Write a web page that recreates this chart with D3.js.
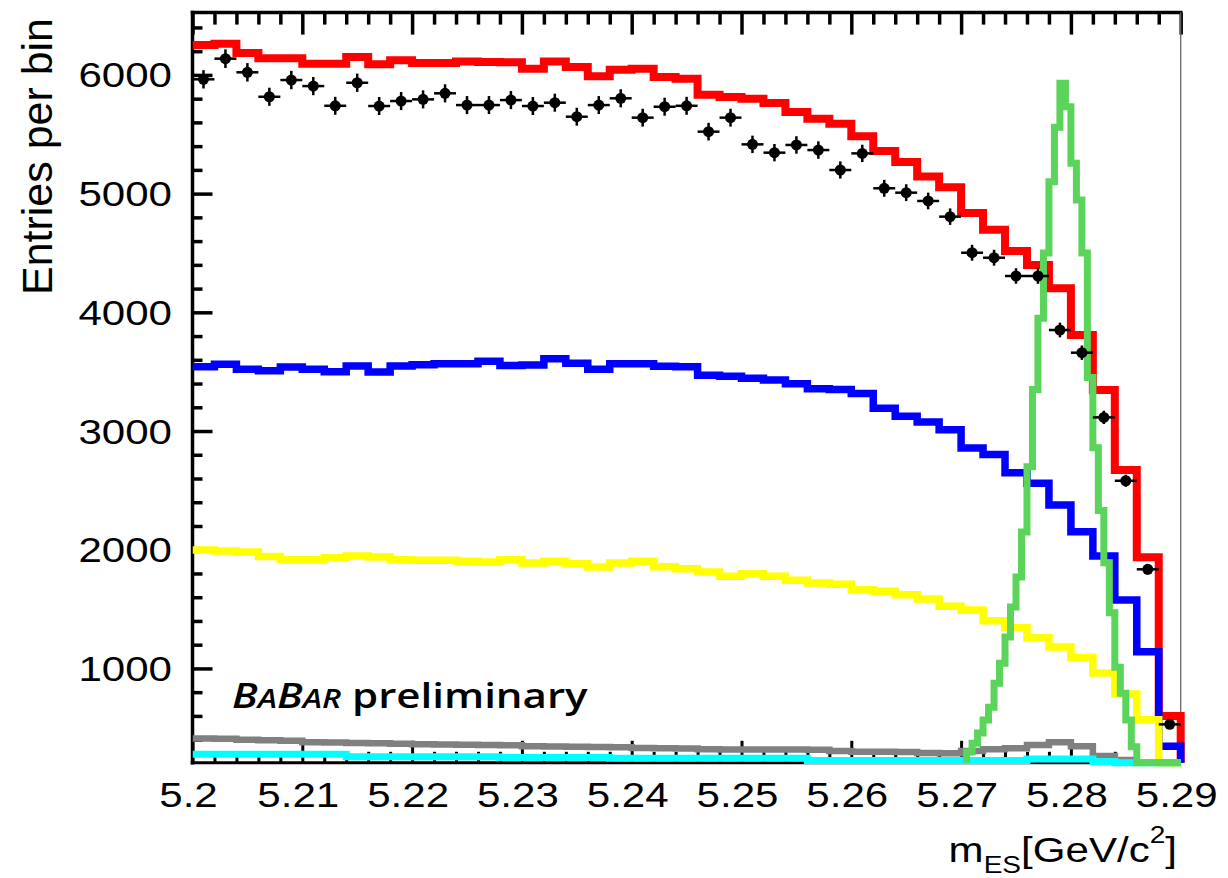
<!DOCTYPE html>
<html><head><meta charset="utf-8">
<script src="https://cdn.jsdelivr.net/npm/d3@7"></script>
<style>body{margin:0;background:#fff}</style>
</head><body>
<svg id="c" width="1228" height="878" xmlns="http://www.w3.org/2000/svg"></svg>
<script>
// ---------- data ----------
const binStart = 5.2, binWidth = 0.002;           // 45 bins, 5.20 - 5.29
const xTicks = [5.2, 5.21, 5.22, 5.23, 5.24, 5.25, 5.26, 5.27, 5.28, 5.29];
const xTickLabels = ["5.2", "5.21", "5.22", "5.23", "5.24", "5.25", "5.26", "5.27", "5.28", "5.29"];
const yTicks = [1000, 2000, 3000, 4000, 5000, 6000];
const yTickLabels = ["1000", "2000", "3000", "4000", "5000", "6000"];

const dataCounts = [5963, 6137, 6022, 5816, 5957, 5906, 5740, 5934, 5738, 5780, 5794, 5845, 5746, 5746, 5788,
  5738, 5766, 5648, 5746, 5803, 5640, 5732, 5740, 5522, 5640, 5415, 5345, 5410, 5367, 5199,
  5339, 5045, 5008, 4938, 4806, 4502, 4460, 4306, 4306, 3851, 3660, 3115, 2581, 1835, 529];
const totalFit = [6252, 6263, 6184, 6140, 6140, 6094, 6094, 6151, 6089, 6123, 6100, 6100, 6114, 6109, 6106,
  6052, 6114, 6066, 5988, 6044, 6052, 5982, 5968, 5833, 5814, 5800, 5763, 5687, 5631, 5589,
  5483, 5359, 5266, 5145, 5053, 4837, 4696, 4516, 4398, 4202, 3809, 3345, 2671, 1936, 599];
const blueComp = [3542, 3562, 3520, 3508, 3539, 3520, 3500, 3548, 3497, 3548, 3559, 3567, 3567, 3587, 3553,
  3556, 3609, 3570, 3520, 3567, 3567, 3545, 3542, 3469, 3461, 3444, 3430, 3398, 3357, 3350,
  3316, 3191, 3124, 3076, 3010, 2856, 2802, 2649, 2559, 2376, 2152, 1947, 1576, 1141, 345];
const yellowComp = [1997, 1989, 1981, 1944, 1916, 1916, 1933, 1947, 1939, 1916, 1911, 1911, 1902, 1896, 1916,
  1888, 1902, 1882, 1854, 1888, 1903, 1857, 1840, 1812, 1776, 1798, 1776, 1742, 1719, 1710,
  1663, 1650, 1620, 1585, 1523, 1492, 1402, 1343, 1259, 1180, 1093, 961, 784, 568, 120];
const grayComp = [410, 408, 400, 395, 390, 378, 375, 372, 370, 366, 362, 360, 358, 356, 352,
  345, 343, 340, 338, 336, 330, 328, 326, 320, 318, 318, 318, 316, 315, 305,
  298, 298, 296, 288, 285, 305, 320, 328, 355, 378, 345, 262, 228, 150, 100];
const cyanComp = [276, 276, 276, 276, 276, 276, 276, 256, 256, 256, 256, 256, 256, 256, 250,
  250, 250, 250, 250, 243, 243, 243, 243, 243, 243, 243, 243, 243, 225, 225,
  225, 225, 225, 225, 225, 225, 225, 225, 238, 238, 238, 215, 120, 120, 120];

const sigStart = 5.2705, sigWidth = 0.0005;       // finer binning for the signal shape
const signalComp = [295, 370, 455, 565, 674, 876, 1044, 1264, 1517, 1770, 2150, 2700, 3350, 3950, 4500,
  5100, 5560, 5930, 5732, 5255, 4946, 4500, 3450, 2860, 2330, 1890, 1470, 1010, 790, 565,
  340, 0, 0, 0, 0, 0, 0, 0, 0];

// ---------- setup ----------
const svg = d3.select("#c");
const X0 = 192.5, X1 = 1180.7, Y0 = 762.8, Y1 = 12.6;
const yMin = 205, yMax = 6525;
const x = d3.scaleLinear().domain([5.2, 5.29]).range([X0, X1]);
const y = d3.scaleLinear().domain([yMin, yMax]).range([Y0, Y1]);
const FONT = "'Liberation Sans', Arial, Helvetica, sans-serif";
const SX = 1.22;

// ---------- axes (ticks) ----------
const xMinor = d3.range(0, 46).map(i => +(5.2 + i * 0.002).toFixed(3)).filter(v => Math.round(v * 1000) % 10 !== 0);
const yMinor = d3.range(400, 6500, 200).filter(v => v % 1000 !== 0);

function styleAxis(g, w) {
  g.select(".domain").remove();
  g.selectAll(".tick line").attr("stroke", "#000").attr("stroke-width", w);
  g.selectAll(".tick text").remove();
}
svg.append("g").attr("transform", `translate(0,${Y1})`)
  .call(d3.axisTop(x).tickValues(xTicks).tickSizeInner(-22).tickSizeOuter(0)).call(g => styleAxis(g, 3.5));
svg.append("g").attr("transform", `translate(0,${Y1})`)
  .call(d3.axisTop(x).tickValues(xMinor).tickSizeInner(-12).tickSizeOuter(0)).call(g => styleAxis(g, 3.5));
svg.append("g").attr("transform", `translate(0,${Y0})`)
  .call(d3.axisBottom(x).tickValues(xTicks).tickSizeInner(-22).tickSizeOuter(0)).call(g => styleAxis(g, 3));
svg.append("g").attr("transform", `translate(0,${Y0})`)
  .call(d3.axisBottom(x).tickValues(xMinor).tickSizeInner(-11).tickSizeOuter(0)).call(g => styleAxis(g, 3));
svg.append("g").attr("transform", `translate(${X0},0)`)
  .call(d3.axisLeft(y).tickValues(yTicks).tickSizeInner(-20).tickSizeOuter(0)).call(g => styleAxis(g, 3.5));
svg.append("g").attr("transform", `translate(${X0},0)`)
  .call(d3.axisLeft(y).tickValues(yMinor).tickSizeInner(-10).tickSizeOuter(0)).call(g => styleAxis(g, 3.5));

// frame
svg.append("line").attr("x1", X0 - 1.8).attr("x2", X1 + 1.8).attr("y1", Y1).attr("y2", Y1).attr("stroke", "#000").attr("stroke-width", 3.5);
svg.append("line").attr("x1", X0).attr("x2", X0).attr("y1", Y1 - 1.8).attr("y2", Y0 + 1.6).attr("stroke", "#000").attr("stroke-width", 3.5);
svg.append("line").attr("x1", X0 - 1.8).attr("x2", X1).attr("y1", Y0).attr("y2", Y0).attr("stroke", "#000").attr("stroke-width", 3);
svg.append("line").attr("x1", X1).attr("x2", X1).attr("y1", Y1).attr("y2", Y0).attr("stroke", "#666").attr("stroke-width", 1.3);

// ---------- histograms ----------
svg.append("defs").append("clipPath").attr("id", "pc").append("rect")
  .attr("x", X0).attr("y", 0).attr("width", 1228 - X0).attr("height", 772);
const plot = svg.append("g").attr("clip-path", "url(#pc)");
const line = d3.line().x(d => x(d[0])).y(d => y(d[1]));
function stepPts(lo, w, vals, startBottom, endBottom) {
  const pts = [];
  if (startBottom) pts.push([lo, yMin]);
  vals.forEach((v, i) => { const c = Math.max(v, yMin); pts.push([lo + i * w, c]); pts.push([lo + (i + 1) * w, c]); });
  if (endBottom) pts.push([lo + vals.length * w, yMin]);
  return pts;
}
function hist(vals, color, width, lo = binStart, w = binWidth, sb = false) {
  plot.append("path").attr("d", line(stepPts(lo, w, vals, sb, true)))
    .attr("fill", "none").attr("stroke", color).attr("stroke-width", width)
    .attr("stroke-linejoin", "miter").attr("stroke-linecap", "butt");
}
hist(totalFit, "#ff0000", 8);
hist(blueComp, "#0000ff", 7.5);
hist(yellowComp, "#ffff00", 7.5);
hist(grayComp, "#808080", 6.5);
hist(cyanComp, "#00ffff", 7);
hist(signalComp, "#5ad45a", 7, sigStart, sigWidth, true);

// ---------- data points ----------
const pts = svg.append("g");
dataCounts.forEach((v, i) => {
  const lo = binStart + i * binWidth, hi = lo + binWidth, c = lo + binWidth / 2;
  const e = Math.sqrt(v);
  pts.append("line").attr("x1", x(lo)).attr("x2", x(hi)).attr("y1", y(v)).attr("y2", y(v)).attr("stroke", "#000").attr("stroke-width", 2.5);
  pts.append("line").attr("x1", x(c)).attr("x2", x(c)).attr("y1", y(v - e)).attr("y2", y(v + e)).attr("stroke", "#000").attr("stroke-width", 2.5);
  pts.append("circle").attr("cx", x(c)).attr("cy", y(v)).attr("r", 5.5).attr("fill", "#000");
});

// ---------- labels ----------
xTicks.forEach((t, i) => {
  svg.append("text").attr("transform", `translate(${x(t) - 4},807) scale(${SX},1)`)
    .attr("text-anchor", "middle").attr("font-family", FONT).attr("font-size", 34.5).attr("fill", "#000")
    .text(xTickLabels[i]);
});
yTicks.forEach((t, i) => {
  svg.append("text").attr("transform", `translate(172,${y(t) + 12.5}) scale(${SX},1)`)
    .attr("text-anchor", "end").attr("font-family", FONT).attr("font-size", 34.5).attr("fill", "#000")
    .text(yTickLabels[i]);
});
// y title
svg.append("text").attr("transform", "translate(52,18) rotate(-90)")
  .attr("text-anchor", "end").attr("font-family", FONT).attr("font-size", 43)
  .attr("textLength", 277).attr("lengthAdjust", "spacingAndGlyphs").text("Entries per bin");
// x title
const xt = svg.append("text").attr("transform", `translate(1177,862) scale(${SX},1)`)
  .attr("text-anchor", "end").attr("font-family", FONT).attr("font-size", 34.5);
xt.append("tspan").text("m");
xt.append("tspan").attr("font-size", 23).attr("dy", 11).text("ES");
xt.append("tspan").attr("dy", -11).text("[GeV/c");
xt.append("tspan").attr("font-size", 23).attr("dy", -19).text("2");
xt.append("tspan").attr("dy", 19).text("]");
// BABAR preliminary
const bb = svg.append("text").attr("x", 0).attr("y", 0)
  .attr("font-family", "'Open Sans', Lato, sans-serif").attr("font-weight", 600).attr("font-size", 35);
bb.append("tspan").attr("font-style", "italic").text("B");
bb.append("tspan").attr("font-style", "italic").attr("font-size", 27).text("A");
bb.append("tspan").attr("font-style", "italic").text("B");
bb.append("tspan").attr("font-style", "italic").attr("font-size", 27).text("AR");
bb.append("tspan").text(" preliminary");
const bw = bb.node().getBBox().width;
bb.attr("transform", `translate(232,708) scale(${356 / bw},1)`);
</script>
</body></html>
